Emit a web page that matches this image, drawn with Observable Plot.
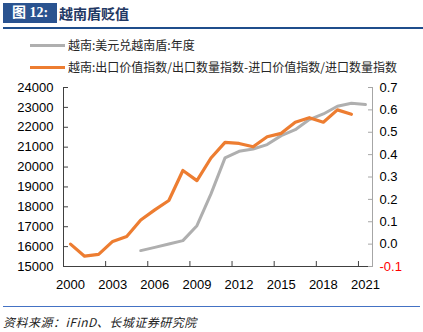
<!DOCTYPE html>
<html><head><meta charset="utf-8">
<script src="https://cdn.jsdelivr.net/npm/d3@7"></script>
<script src="https://cdn.jsdelivr.net/npm/@observablehq/plot@0.6"></script>
<style>
body{margin:0;background:#fff;}
#wrap{position:relative;width:423px;height:332px;overflow:hidden;background:#fff;font-family:"Noto Sans CJK SC","Noto Sans",sans-serif;}
#tbox{position:absolute;left:3px;top:3px;width:54px;height:20px;background:#2A5390;color:#fff;font:bold 14px "Liberation Serif","Noto Sans CJK SC",serif;line-height:20px;text-align:center;}
#ttext{position:absolute;left:59px;top:2px;height:22px;line-height:22px;color:#1F3864;font-weight:bold;font-size:14px;}
#tline{position:absolute;left:3px;top:27px;width:420px;height:2px;background:#1F4E8C;}
.leg{position:absolute;left:30px;height:16px;line-height:16px;font-size:12px;color:#262626;white-space:nowrap;}
.sw{display:inline-block;width:35px;height:3px;vertical-align:middle;margin-right:3px;position:relative;top:-1px;}
#chart{position:absolute;left:0;top:78px;}
#bline{position:absolute;left:3px;top:306px;width:417px;height:1px;background:#4472C4;}
#src{position:absolute;left:3px;top:313px;font-size:12px;letter-spacing:0.5px;font-style:italic;color:#222;white-space:nowrap;line-height:18px;}
</style></head><body>
<div id="wrap">
  <div id="tbox">图 12:</div>
  <div id="ttext">越南盾贬值</div>
  <div id="tline"></div>
  <div class="leg" id="leg1" style="top:37px"></div>
  <div class="leg" id="leg2" style="top:59px"></div>
  <div id="chart"></div>
  <div id="bline"></div>
  <div id="src">资料来源：iFinD、长城证券研究院</div>
</div>
<script>
const years = [2000,2001,2002,2003,2004,2005,2006,2007,2008,2009,2010,2011,2012,2013,2014,2015,2016,2017,2018,2019,2020,2021];
const vndPerUsd = [null,null,null,null,null,15800,15960,16130,16300,17050,18650,20460,20790,20910,21130,21580,21880,22390,22670,23060,23210,23140];
const priceIndexSpread = [0.000,-0.054,-0.046,0.012,0.034,0.108,0.153,0.195,0.329,0.284,0.385,0.455,0.450,0.435,0.480,0.495,0.545,0.565,0.545,0.600,0.580,null];
const seriesNames = ["越南:美元兑越南盾:年度","越南:出口价值指数/出口数量指数-进口价值指数/进口数量指数"];
const seriesColors = ["#AFAFAF","#ED7D31"];
const leftTicks = [15000,16000,17000,18000,19000,20000,21000,22000,23000,24000];
const rightTicks = [-0.1,0.0,0.1,0.2,0.3,0.4,0.5,0.6,0.7];
const xLabelYears = [2000,2003,2006,2009,2012,2015,2018,2021];
const xGroupTicks = [2002.5,2005.5,2008.5,2011.5,2014.5,2017.5,2020.5];
const xDomain = [1999.5,2021.5];
const leftDomain = [15000,24000];
const rightDomain = [-0.1,0.7];

const toLeft = r => leftDomain[0] + (r - rightDomain[0]) / (rightDomain[1] - rightDomain[0]) * (leftDomain[1] - leftDomain[0]);
const fromLeft = v => rightDomain[0] + (v - leftDomain[0]) / (leftDomain[1] - leftDomain[0]) * (rightDomain[1] - rightDomain[0]);
const fmtR = v => { const r = Math.round(fromLeft(v)*10)/10; return (r < 0 ? "-" : "") + Math.abs(r).toFixed(1); };

document.getElementById("leg1").innerHTML = `<span class="sw" style="background:${seriesColors[0]}"></span>${seriesNames[0]}`;
document.getElementById("leg2").innerHTML = `<span class="sw" style="background:${seriesColors[1]}"></span>${seriesNames[1]}`;

const axisDark = "#404040";
const axisGray = "#A6A6A6";
const tickLen = 5;
const rightMapped = rightTicks.map(toLeft);

const chart = Plot.plot({
  width: 423,
  height: 222,
  marginTop: 9,
  marginBottom: 34,
  marginLeft: 63,
  marginRight: 51,
  style: {fontFamily: "'Liberation Sans', Arial, sans-serif", fontSize: "13px", color: "#000", background: "transparent", overflow: "visible"},
  x: {type: "linear", domain: xDomain},
  y: {type: "linear", domain: leftDomain},
  marks: [
    Plot.ruleX([xDomain[0]], {stroke: axisDark}),
    Plot.ruleX([xDomain[1]], {stroke: axisGray}),
    Plot.ruleY([leftDomain[0]], {stroke: axisDark}),
    // inward tick marks
    Plot.axisY(leftTicks, {anchor: "left", tickSize: tickLen, dx: tickLen, stroke: axisDark, tickFormat: () => ""}),
    Plot.axisY(rightMapped, {anchor: "right", tickSize: tickLen, dx: -tickLen, stroke: axisGray, tickFormat: () => ""}),
    Plot.axisX(xGroupTicks, {anchor: "bottom", tickSize: tickLen, dy: -tickLen, stroke: axisDark, tickFormat: () => ""}),
    // labels
    Plot.axisY(leftTicks, {anchor: "left", tickSize: 0, tickPadding: 10, fill: "#000", tickFormat: d => String(d)}),
    Plot.axisY(rightMapped.filter((v, i) => rightTicks[i] > rightDomain[0] + 1e-9), {anchor: "right", tickSize: 0, tickPadding: 7, fill: "#000", tickFormat: fmtR}),
    Plot.axisY(rightMapped.filter((v, i) => rightTicks[i] <= rightDomain[0] + 1e-9), {anchor: "right", tickSize: 0, tickPadding: 7, fill: "#FF0000", tickFormat: fmtR}),
    Plot.axisX(xLabelYears, {anchor: "bottom", tickSize: 0, tickPadding: 13, fill: "#000", tickFormat: d => String(d)}),
    // series
    Plot.line(years, {x: d => d, y: (d, i) => vndPerUsd[i] == null ? NaN : vndPerUsd[i], stroke: seriesColors[0], strokeWidth: 3}),
    Plot.line(years, {x: d => d, y: (d, i) => priceIndexSpread[i] == null ? NaN : toLeft(priceIndexSpread[i]), stroke: seriesColors[1], strokeWidth: 3.2})
  ]
});
document.getElementById("chart").appendChild(chart);
</script>
</body></html>
